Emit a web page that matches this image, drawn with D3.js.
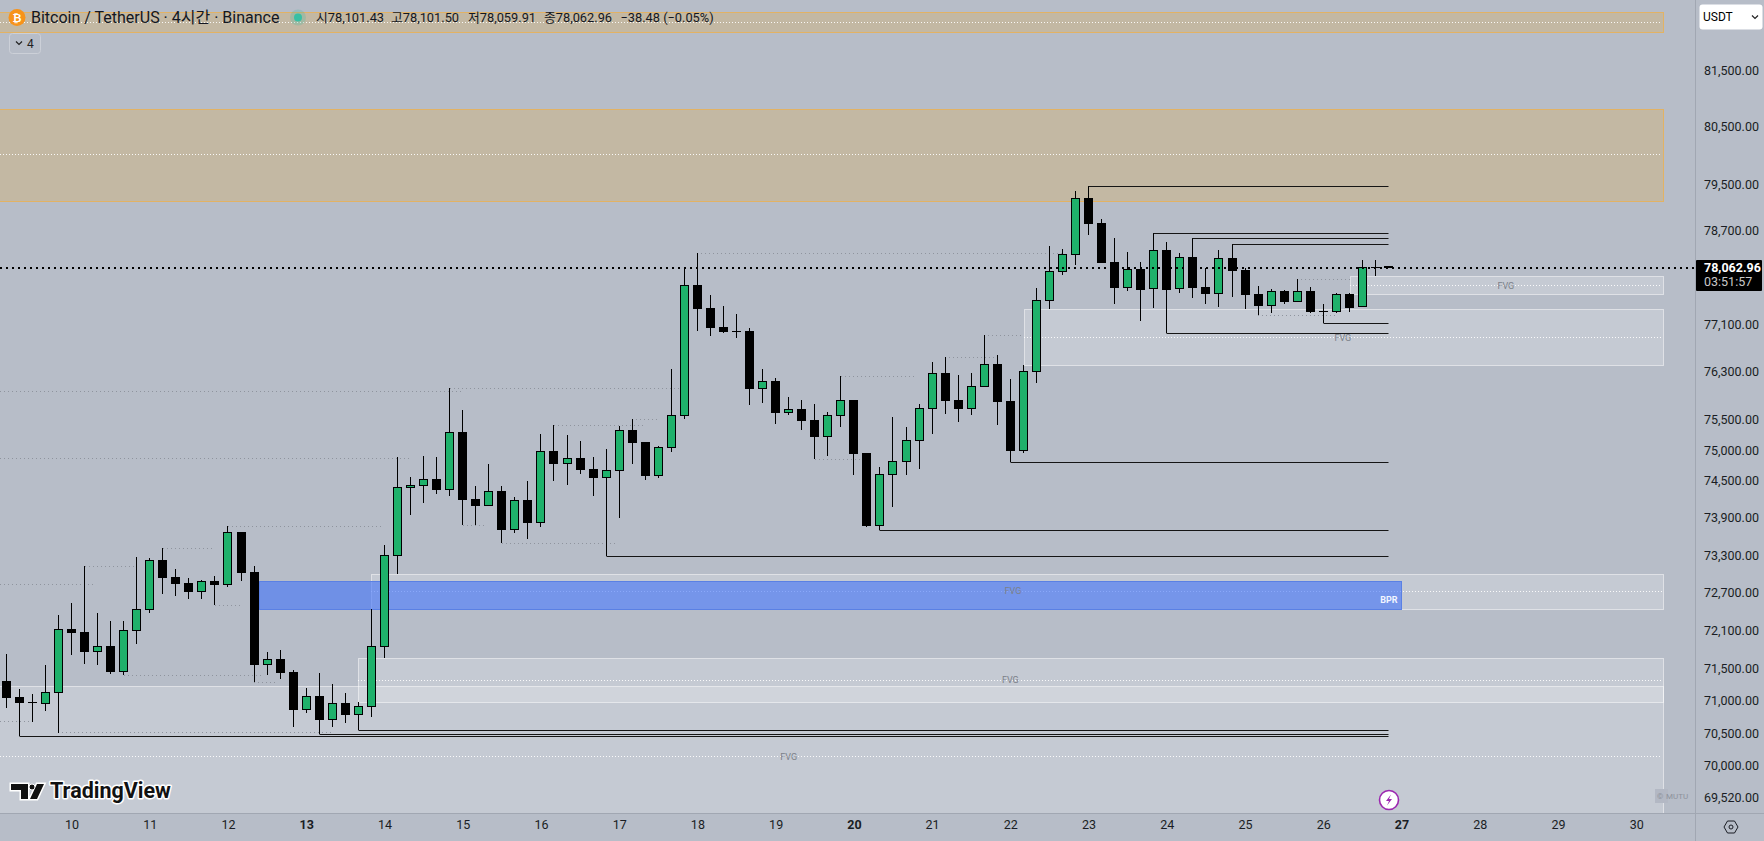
<!DOCTYPE html>
<html><head><meta charset="utf-8">
<script src="https://cdn.jsdelivr.net/npm/d3@7"></script>
<style>
html,body{margin:0;padding:0;background:#b7bdc8;overflow:hidden}
svg{display:block}
text{font-family:Roboto,"Noto Sans CJK KR",sans-serif}
</style></head><body><div id="chart"></div>
<script>
const opens=[71314,71064,70980,70965,71136,72134,72087,71776,71866,71464,
72108,72439,73232,72960,72864,72725,72896,72837,73683,73040,
71573,71662,71459,70872,71084,70717,70976,70795,70918,71855,
73301,74400,74433,74537,74367,75313,74215,74107,74346,73717,
74199,73833,75000,74792,74885,74706,74563,74678,75346,75148,
74596,75054,75582,77774,77383,77063,76980,76995,76030,76158,
75631,75692,75511,75235,75582,75841,74967,73784,74612,74825,
75170,75697,76291,75841,75697,76063,76441,75825,75005,76313,
77506,78001,78291,79268,78836,78166,77728,78047,77699,78371,
77711,78252,77740,77625,78235,78030,77620,77422,77672,77489,
77672,77330,77321,77620,77395,78086,78101.43];
const closes=[71057,70980,70990,71142,72130,72071,71772,71861,71459,72114,
72445,73227,72944,72848,72720,72891,72832,73678,73024,71569,
71658,71444,70867,71079,70713,70971,70790,70925,71861,73307,
74407,74439,74537,74362,75308,74199,74102,74341,73715,74194,
73828,74995,74787,74880,74689,74558,74684,75341,75132,74591,
75060,75589,77769,77366,77046,76978,76995,76025,76153,75627,
75688,75495,75230,75589,75836,74951,73779,74619,74831,75176,
75704,76286,75825,75692,76070,76436,75808,75000,76320,77513,
78008,78298,79262,78819,78149,77723,78042,77689,78366,77683,
78246,77723,77620,78229,78013,77603,77417,77666,77484,77666,
77316,77324,77615,77383,78086,78090,78062.96];
const highs=[71736,71189,71116,71569,72355,72545,73136,72387,72261,72261,
73280,73264,73424,73088,72944,72912,72976,73779,73683,73136,
71772,71803,71491,71209,71444,71272,71131,70991,72450,73473,
74901,74575,74918,74901,76041,75676,74428,74787,74428,74248,
74509,75280,75428,75264,75165,74901,75032,75412,75527,75148,
75082,76358,78064,78320,77603,77417,77282,77046,76358,76208,
75891,75841,75775,75643,76241,75841,74967,74738,75560,75395,
75775,76475,76558,76258,76291,76923,76592,76191,76425,77723,
78440,78388,79388,79472,78905,78578,78337,78166,78659,78509,
78320,78572,78059,78371,78469,78064,77757,77706,77689,77876,
77740,77451,77637,77637,78200,78200,78101.5];
const lows=[70903,70465,70687,70852,70516,71725,71584,71569,71433,71413,
71898,72387,72688,72656,72608,72608,72508,72805,72896,71303,
71413,71350,70605,70821,70492,70605,70666,70554,70759,71678,
73008,73957,74151,74297,74264,73795,73795,74107,73505,73666,
73570,73763,74509,74444,74624,74264,73296,73908,74787,74526,
74558,74983,75527,76995,76911,76962,76877,75759,75792,75445,
75593,75346,74869,74918,75395,74607,73763,73710,74086,74607,
74706,75280,75610,75478,75593,76063,75428,74815,74967,76125,
77366,77945,78115,78630,78149,77451,77672,77164,77383,76957,
77637,77552,77451,77400,77569,77366,77265,77299,77451,77489,
77299,77125,77299,77316,77395,77927,78059.91];

const priceTicks=[81500,80500,79500,78700,77100,76300,75500,75000,74500,73900,73300,72700,72100,71500,71000,70500,70000,69520];
const dayLabels=["10","11","12","13","14","15","16","17","18","19","20","21","22","23","24","25","26","27","28","29","30"];
const dayIndex=[5,11,17,23,29,35,41,47,53,59,65,71,77,83,89,95,101,107,113,119,125];
const boldDays=["13","20","27"];
const legendItems=["시78,101.43","고78,101.50","저78,059.91","종78,062.96","−38.48 (−0.05%)"];

// [left index, right index, top price, bottom price, mid price]
const orangeZones=[[-1,127.1,82556,82196,82376],[-1,127.1,80828,79221,80030]];
const fvgZones=[[-1,127.1,71236,69000,70152],[103.07,127.1,77927,77625,77769],[78.07,127.1,77361,76420,76889],[28,127.1,73003,72445,72736],[27,127.1,71673,70986,71330]];
const bprZone=[19.4,107,72891,72439];
// [index position, price]
const fvgLabels=[[115,77769],[102.5,76889],[77.2,72736],[77,71330],[60,70152]];
const lastClose=78062.96;
const sweepLows=[1,24,27,46,67,77,89,101];
const sweepHighs=[83,88,91,94];
// [from index, to index, price]
const pivots=[[-1,6.8,72837],[6,10,73136],[12,16,73424],[9,19.8,71413],[-1,1.8,70693],[4,25,70516],[17,28.8,73779],[16,17.9,72508],[19,20.8,71303],[-1,31,74880],[-1,34.9,75986],[34,51.7,76041],[35,36.9,73795],[42,49,75428],[48,49.9,75527],[38,46.8,73505],[53,81,78320],[62,65.6,74869],[64,69.8,76241],[72,75.9,76558],[75,78,76923],[99,103.1,77876],[96,102,77265]];

const W=1764,H=841,paneR=1695,paneB=813;
const svg=d3.select("#chart").append("svg").attr("width",W).attr("height",H);
svg.append("rect").attr("width",W).attr("height",H).attr("fill","#b7bdc8");
svg.append("defs").append("clipPath").attr("id","pane").append("rect").attr("width",paneR).attr("height",paneB);

const x=d3.scaleLinear().domain([0,106]).range([6.3,1388.5]);
const y=d3.scaleLog().domain([69520,81500]).range([797.8,71.2]);
const crisp=v=>Math.floor(v)+.5;

const pane=svg.append("g").attr("clip-path","url(#pane)");

function zone(g,d,fill,stroke){
  g.append("rect").attr("x",crisp(x(d[0]))).attr("y",crisp(y(d[2]))).attr("width",Math.round(x(d[1])-x(d[0])))
   .attr("height",Math.round(y(d[3])-y(d[2]))).attr("fill",fill).attr("stroke",stroke);
}
function mid(g,d){
  g.append("line").attr("x1",Math.max(0,Math.round(x(d[0])))).attr("x2",Math.round(x(d[1]))-2).attr("y1",crisp(y(d[4]))).attr("y2",crisp(y(d[4])))
   .attr("stroke","#fff").attr("stroke-opacity",.9).attr("stroke-dasharray","1 2");
}
orangeZones.forEach(d=>{zone(pane,d,"#c3b8a3","#e2b264");mid(pane,d);});
fvgZones.forEach(d=>{zone(pane,d,"rgba(255,255,255,.2)","rgba(255,255,255,.5)");mid(pane,d);});
zone(pane,bprZone,"rgba(63,114,250,.6)","#5a80e4");
fvgLabels.forEach(d=>pane.append("text").attr("x",x(d[0])).attr("y",y(d[1])).attr("dy",".35em").attr("text-anchor","middle")
  .attr("font-size",9).attr("fill","#7b8089").text("FVG"));
pane.append("text").attr("x",x(bprZone[1])-4).attr("y",603).attr("text-anchor","end").attr("font-size",9).attr("font-weight",700).attr("fill","#f2f5ff").text("BPR");

pane.selectAll("line.pivot").data(pivots).join("line").attr("class","pivot")
  .attr("x1",d=>Math.max(0,Math.round(x(d[0])))).attr("x2",d=>Math.round(x(d[1]))).attr("y1",d=>crisp(y(d[2]))).attr("y2",d=>crisp(y(d[2])))
  .attr("stroke","#8f949e").attr("stroke-dasharray","1 3");

// candles
const idx=d3.range(opens.length);
const cg=pane.append("g");
cg.selectAll("line").data(idx).join("line")
  .attr("x1",i=>crisp(x(i))).attr("x2",i=>crisp(x(i))).attr("y1",i=>Math.round(y(highs[i]))).attr("y2",i=>Math.round(y(lows[i])))
  .attr("stroke","#000");
cg.selectAll("rect").data(idx).join("rect")
  .attr("x",i=>crisp(x(i))-4).attr("width",8)
  .attr("y",i=>Math.round(y(Math.max(opens[i],closes[i])))+.5)
  .attr("height",i=>Math.max(.01,Math.round(y(Math.min(opens[i],closes[i])))-Math.round(y(Math.max(opens[i],closes[i])))-1))
  .attr("fill",i=>closes[i]>=opens[i]?"#1fb16b":"#000").attr("stroke","#000");

// sweep lines
const sweeps=sweepLows.map(i=>[i,lows[i]]).concat(sweepHighs.map(i=>[i,highs[i]]));
pane.selectAll("line.sweep").data(sweeps).join("line").attr("class","sweep")
  .attr("x1",d=>crisp(x(d[0]))).attr("x2",x(106)).attr("y1",d=>crisp(y(d[1]))).attr("y2",d=>crisp(y(d[1])))
  .attr("stroke","#151515");

// last price line
svg.append("line").attr("x1",0).attr("x2",paneR).attr("y1",Math.round(y(lastClose))).attr("y2",Math.round(y(lastClose)))
  .attr("stroke","#000").attr("stroke-width",2).attr("stroke-dasharray","2 4");

// frame lines
svg.append("line").attr("x1",paneR+.5).attr("x2",paneR+.5).attr("y1",0).attr("y2",H).attr("stroke","#a1a7b2");
svg.append("line").attr("x1",0).attr("x2",W).attr("y1",paneB+.5).attr("y2",paneB+.5).attr("stroke","#a1a7b2");

// axes
const ax=svg.append("g").attr("transform",`translate(${paneR+1},-0.7)`)
  .call(d3.axisRight(y).tickValues(priceTicks).tickFormat(d3.format(",.2f")).tickSize(0).tickPadding(8));
ax.select(".domain").remove();
ax.attr("font-family",null);
ax.selectAll("text").attr("font-size",12.5).attr("fill","#1a1d24");
const bx=svg.append("g").attr("transform",`translate(0,${paneB})`)
  .call(d3.axisBottom(x).tickValues(dayIndex).tickFormat((d,i)=>dayLabels[i]).tickSize(0).tickPadding(7));
bx.select(".domain").remove();
bx.attr("font-family",null);
bx.selectAll("text").attr("font-size",12.5).attr("fill","#1a1d24").attr("font-weight",(d,i)=>boldDays.includes(dayLabels[i])?700:400);

// last price label
svg.append("rect").attr("x",paneR+1).attr("y",260).attr("width",66).attr("height",31).attr("rx",1).attr("fill","#000");
svg.append("text").attr("x",1704).attr("y",272).attr("font-size",12.5).attr("font-weight",700).attr("fill","#fff").text(d3.format(",.2f")(lastClose));
svg.append("text").attr("x",1704).attr("y",286).attr("font-size",12.5).attr("fill","#c9c9c9").text("03:51:57");

// currency button
svg.append("rect").attr("x",1699.5).attr("y",4.5).attr("width",63).attr("height",25).attr("rx",3).attr("fill","#fff");
svg.append("text").attr("x",1703).attr("y",21).attr("font-size",12).attr("fill","#000").text("USDT");
svg.append("path").attr("d","M1752 15.5l3 3 3-3").attr("fill","none").attr("stroke","#222").attr("stroke-width",1.2);

// settings icon
svg.append("path").attr("d","M1724 827l3.5-6h7l3.5 6-3.5 6h-7z").attr("fill","none").attr("stroke","#1a1d24");
svg.append("circle").attr("cx",1731).attr("cy",827).attr("r",2).attr("fill","none").attr("stroke","#1a1d24");

// header
svg.append("circle").attr("cx",17).attr("cy",17.5).attr("r",8.5).attr("fill","#f7931a");
svg.append("text").attr("x",17).attr("y",21.5).attr("text-anchor","middle").attr("font-size",11).attr("font-weight",700).attr("fill","#fff").text("₿");
svg.append("text").attr("x",31).attr("y",23).attr("font-size",16).attr("fill","#131722").text("Bitcoin / TetherUS · 4시간 · Binance");
svg.append("circle").attr("cx",298).attr("cy",17.5).attr("r",8).attr("fill","#3fb8a0").attr("fill-opacity",.25);
svg.append("circle").attr("cx",298).attr("cy",17.5).attr("r",4).attr("fill","#37c0a4");
const legendX=[316,391,468,544,620.5];
legendItems.forEach((t,i)=>svg.append("text").attr("x",legendX[i]).attr("y",22).attr("font-size",12.8).attr("fill","#131722").text(t));
svg.append("rect").attr("x",9.5).attr("y",33.5).attr("width",31).attr("height",20).attr("rx",3).attr("fill","none").attr("stroke","#ccd0d8");
svg.append("path").attr("d","M16 41.5l3 3 3-3").attr("fill","none").attr("stroke","#222").attr("stroke-width",1.2);
svg.append("text").attr("x",27).attr("y",48).attr("font-size",12).attr("fill","#222").text("4");

// logo
const logo=svg.append("g");
const logoPath="M11 784h17v15h-7v-9h-10zM30 799l7-15h7l-7 15z";
logo.append("path").attr("d",logoPath).attr("fill","#fff").attr("stroke","#fff").attr("stroke-width",3);
logo.append("circle").attr("cx",32).attr("cy",787).attr("r",3).attr("fill","#111").attr("stroke","#fff").attr("stroke-width",1);
logo.append("path").attr("d",logoPath).attr("fill","#111");
svg.append("text").attr("x",50).attr("y",798).attr("font-size",21.5).attr("font-weight",700).attr("font-family","Inter,Roboto,sans-serif")
  .attr("fill","#111").attr("stroke","#fff").attr("stroke-width",3).attr("paint-order","stroke").attr("stroke-linejoin","round").text("TradingView");

// news badge
svg.append("circle").attr("cx",1389).attr("cy",800).attr("r",9.5).attr("fill","#fff").attr("stroke","#9c27b0").attr("stroke-width",1.6);
svg.append("path").attr("d","M1391 794.5l-5 6.5h3l-2 4.5 5-6.5h-3z").attr("fill","#9c27b0");

// watermark
svg.append("rect").attr("x",1655).attr("y",789).attr("width",13).attr("height",14).attr("fill","#b3b8c4");
svg.append("text").attr("x",1657).attr("y",799).attr("font-size",8).attr("fill","#8d929c").text("©");
svg.append("text").attr("x",1666).attr("y",799).attr("font-size",8).attr("fill","#8d929c").text("MUTU");
</script></body></html>
